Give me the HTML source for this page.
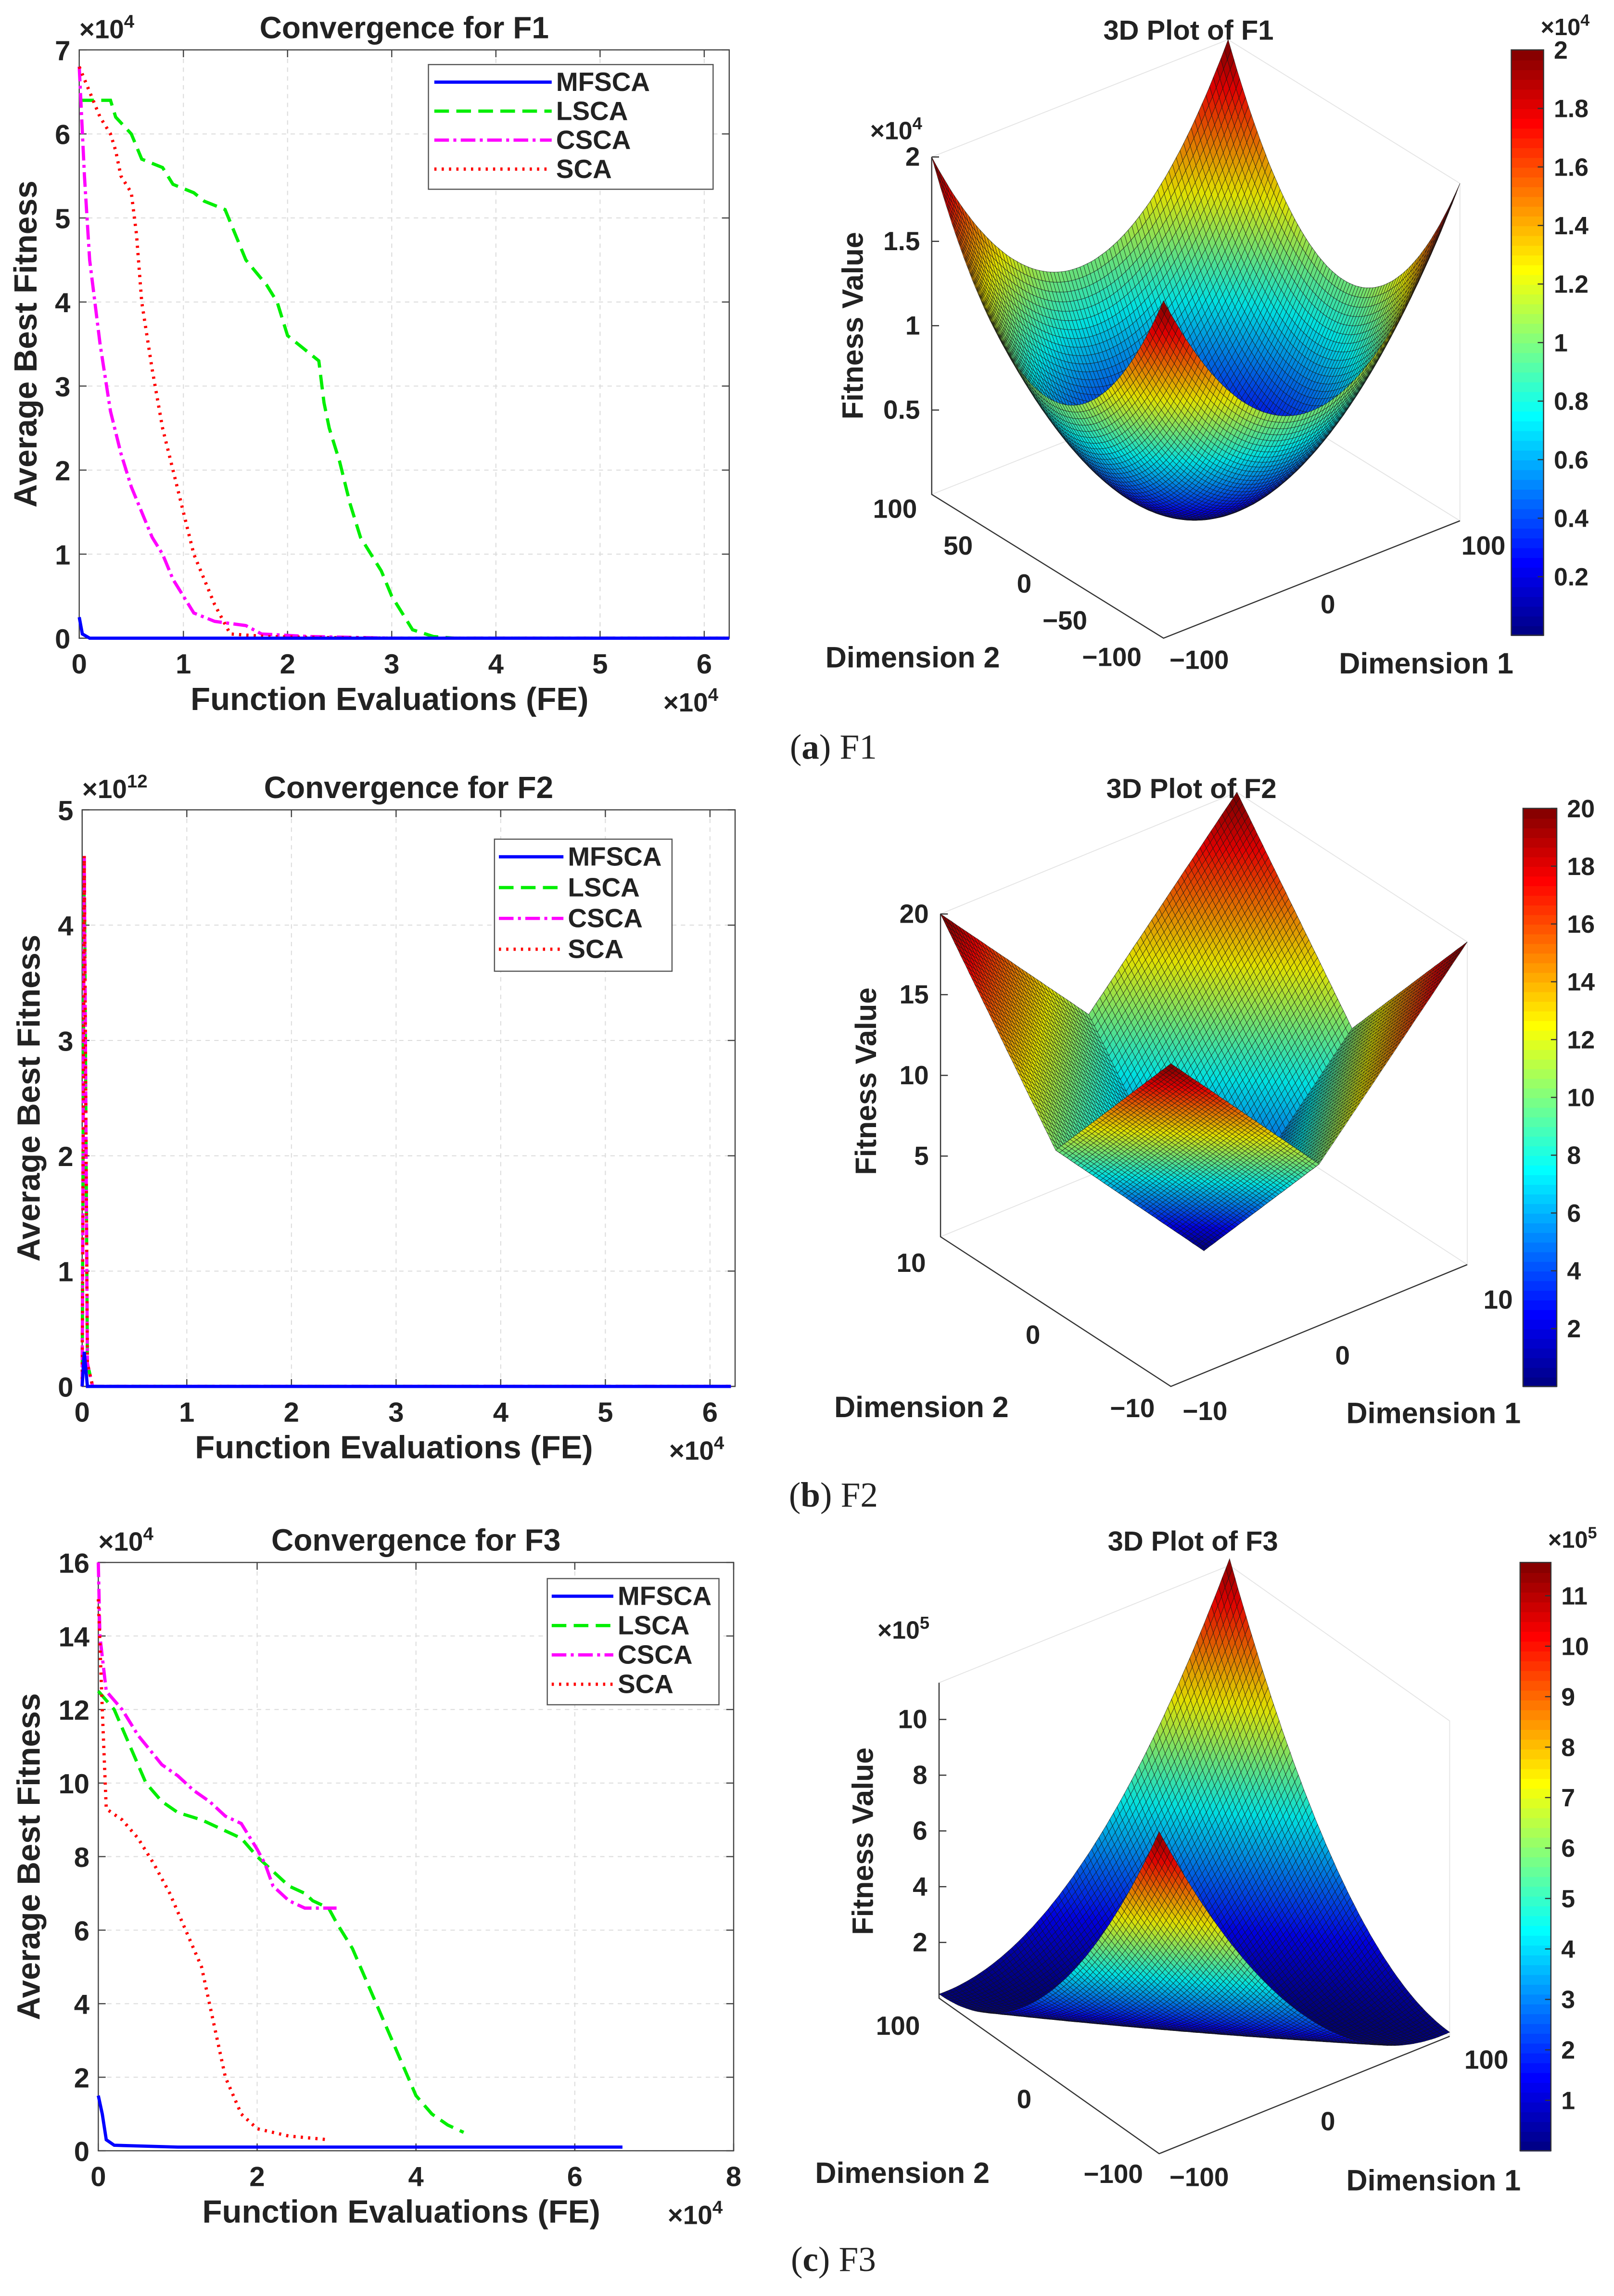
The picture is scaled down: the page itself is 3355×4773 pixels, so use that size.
<!DOCTYPE html>
<html><head><meta charset="utf-8">
<style>
html,body{margin:0;padding:0;background:#fff;}
svg{display:block;}
text{font-family:"Liberation Sans",sans-serif;font-weight:bold;fill:#222;}
</style></head>
<body>
<svg id="fig" xmlns="http://www.w3.org/2000/svg" width="3355" height="4773" viewBox="0 0 1100 1565" preserveAspectRatio="none">
</svg>
<script>
// ---------- DATA ----------
const f1MfscaX=[0,0.03,0.1,6.24], f1MfscaY=[0.25,0.05,0,0];
const f1LscaX=[0,0.3,0.35,0.5,0.6,0.8,0.9,1.1,1.2,1.4,1.5,1.6,1.8,1.9,2.0,2.1,2.3,2.35,2.4,2.5,2.6,2.7,2.8,2.9,3.0,3.1,3.2,3.4,3.6,6.24];
const f1LscaY=[6.4,6.4,6.2,6.0,5.7,5.6,5.4,5.3,5.2,5.1,4.8,4.5,4.2,4.0,3.6,3.5,3.3,2.8,2.5,2.1,1.6,1.2,1.0,0.8,0.5,0.3,0.1,0.02,0,0];
const f1CscaX=[0,0.05,0.1,0.2,0.3,0.4,0.5,0.6,0.7,0.8,0.9,1.0,1.1,1.3,1.6,1.75,2.2,3,6.24];
const f1CscaY=[6.8,5.5,4.5,3.5,2.7,2.2,1.8,1.5,1.2,1.0,0.7,0.5,0.3,0.2,0.15,0.05,0.02,0,0];
const f1ScaX=[0,0.2,0.3,0.35,0.4,0.5,0.55,0.6,0.7,0.8,0.9,1.0,1.1,1.2,1.3,1.45,1.8,2.2,3,6.24];
const f1ScaY=[6.8,6.2,6.0,5.8,5.5,5.3,4.8,4.0,3.2,2.5,2.0,1.5,1.0,0.7,0.4,0.05,0.02,0.01,0,0];

const f2X=[0,0.02,0.05,0.1,6.2], f2Y=[0,4.6,0.2,0,0];
const f2MfscaX=[0,0.02,0.05,6.2], f2MfscaY=[0,0.3,0,0];

const f3MfscaX=[0,0.05,0.1,0.2,1,6.6], f3MfscaY=[1.5,1.0,0.3,0.15,0.1,0.1];
const f3LscaX=[0,0.2,0.4,0.6,0.8,1.0,1.3,1.6,1.8,2.0,2.2,2.4,2.6,2.7,2.9,3.0,3.2,3.4,3.6,3.8,4.0,4.2,4.4,4.6];
const f3LscaY=[12.5,12,11,10,9.5,9.2,9.0,8.7,8.5,8.0,7.6,7.2,7.0,6.8,6.6,6.2,5.5,4.5,3.5,2.5,1.5,1.0,0.7,0.5];
const f3CscaX=[0,0.02,0.1,0.3,0.5,0.8,1.0,1.2,1.4,1.6,1.8,2.0,2.1,2.2,2.4,2.6,3.0];
const f3CscaY=[16,14,12.5,12,11.3,10.5,10.2,9.8,9.5,9.1,8.9,8.2,7.8,7.2,6.8,6.6,6.6];
const f3ScaX=[0,0.05,0.1,0.3,0.5,0.7,0.9,1.1,1.3,1.4,1.5,1.6,1.8,2.0,2.4,2.9];
const f3ScaY=[15,12,9.3,9.0,8.5,7.8,7.0,6.0,5.0,4.0,3.0,2.0,1.0,0.6,0.4,0.3];

const seriesNames=["MFSCA","LSCA","CSCA","SCA"];

// ---------- HELPERS ----------
const NS="http://www.w3.org/2000/svg";
const svg=document.getElementById('fig');
function mk(tag,attrs,parent){const e=document.createElementNS(NS,tag);for(const k in attrs)e.setAttribute(k,attrs[k]);(parent||svg).appendChild(e);return e;}
function txt(x,y,s,size,anchor,parent,rot){const t=mk('text',{x:x,y:y,'font-size':size,'text-anchor':anchor||'middle'},parent);if(rot)t.setAttribute('transform',`rotate(${rot} ${x} ${y})`);t.textContent=s;return t;}
function sup(x,y,base,exp,size,anchor,parent){const t=mk('text',{x:x,y:y,'font-size':size,'text-anchor':anchor||'start'},parent);t.appendChild(document.createTextNode(base));const s=document.createElementNS(NS,'tspan');s.setAttribute('dy',-size*0.4);s.setAttribute('font-size',size*0.7);s.textContent=exp;t.appendChild(s);return t;}
const styles={MFSCA:{c:'#0000ff',d:''},LSCA:{c:'#00ee00',d:'10,5'},CSCA:{c:'#ff00ff',d:'10,3,2,3'},SCA:{c:'#ff0000',d:'1.5,3.5'}};

function convPlot(o){
  const g=mk('g',{},svg);
  
  
  const sx=v=>o.x0+(v-o.xmin)/(o.xmax-o.xmin)*(o.x1-o.x0);
  const sy=v=>o.y1-(v-o.ymin)/(o.ymax-o.ymin)*(o.y1-o.y0);
  o.xt.forEach(v=>{mk('line',{x1:sx(v),x2:sx(v),y1:o.y0,y2:o.y1,stroke:'#ddd','stroke-width':0.7,'stroke-dasharray':'3,3'},g);});
  o.yt.forEach(v=>{mk('line',{x1:o.x0,x2:o.x1,y1:sy(v),y2:sy(v),stroke:'#ddd','stroke-width':0.7,'stroke-dasharray':'3,3'},g);});
  const fr=mk('rect',{x:o.x0,y:o.y0,width:o.x1-o.x0,height:o.y1-o.y0,fill:'none',stroke:'#444','stroke-width':0.8},g);
  
  o.xt.forEach(v=>{txt(sx(v),o.y1+24,String(v),19,'middle',g);mk('line',{x1:sx(v),x2:sx(v),y1:o.y1,y2:o.y1-5,stroke:'#444','stroke-width':0.8},g);mk('line',{x1:sx(v),x2:sx(v),y1:o.y0,y2:o.y0+5,stroke:'#444','stroke-width':0.8},g);});
  o.yt.forEach(v=>{txt(o.x0-6,sy(v)+7,String(v),19,'end',g);mk('line',{x1:o.x0,x2:o.x0+5,y1:sy(v),y2:sy(v),stroke:'#444','stroke-width':0.8},g);mk('line',{x1:o.x1,x2:o.x1-5,y1:sy(v),y2:sy(v),stroke:'#444','stroke-width':0.8},g);});
  o.series.forEach(s=>{const st=styles[s.n];const p=mk('polyline',{points:s.x.map((v,i)=>sx(v)+','+sy(s.y[i])).join(' '),fill:'none',stroke:st.c,'stroke-width':2.2,'stroke-dasharray':st.d},g);
    });
  const t=txt((o.x0+o.x1)/2,o.y0-8,o.title,21,'middle',g);
  sup(o.x0,o.y0-8,'×10',o.yexp,18,'start',g);
  const xl=txt((o.x0+o.x1)/2-10,o.y1+49,'Function Evaluations (FE)',22,'middle',g);
  sup(o.x1-45,o.y1+50,'×10','4',18,'start',g);
  const yl=txt(o.yl,(o.y0+o.y1)/2,'Average Best Fitness',22,'middle',g,-90);
  const L=o.leg;const lg=mk('g',{},g);
  mk('rect',{x:L.x,y:L.y,width:L.w,height:L.h,fill:'#fff',stroke:'#555','stroke-width':0.8},lg);
  seriesNames.forEach((n,i)=>{const yy=L.y+12+i*(L.h-6)/4;const st=styles[n];
    const e=mk('line',{x1:L.lx,x2:L.lx+L.ll,y1:yy,y2:yy,stroke:st.c,'stroke-width':2.2,'stroke-dasharray':st.d},lg);
    
    txt(L.lx+L.ll+3,yy+6,n,18,'start',lg);});
}

convPlot({name:'convergence-f1',x0:54,x1:497,y0:34,y1:435,xmin:0,xmax:6.24,ymin:0,ymax:7,xt:[0,1,2,3,4,5,6],yt:[0,1,2,3,4,5,6,7],title:'Convergence for F1',yexp:'4',yl:25,
  leg:{x:292,y:44,w:194,h:85,lx:296,ll:80},
  series:[{n:'LSCA',x:f1LscaX,y:f1LscaY},{n:'CSCA',x:f1CscaX,y:f1CscaY},{n:'SCA',x:f1ScaX,y:f1ScaY},{n:'MFSCA',x:f1MfscaX,y:f1MfscaY}]});
convPlot({name:'convergence-f2',x0:56,x1:501,y0:552,y1:945,xmin:0,xmax:6.24,ymin:0,ymax:5,xt:[0,1,2,3,4,5,6],yt:[0,1,2,3,4,5],title:'Convergence for F2',yexp:'12',yl:27,
  leg:{x:337,y:572,w:121,h:90,lx:340,ll:44},
  series:[{n:'LSCA',x:f2X,y:f2Y},{n:'CSCA',x:f2X,y:f2Y},{n:'SCA',x:f2X,y:f2Y},{n:'MFSCA',x:f2MfscaX,y:f2MfscaY}]});
convPlot({name:'convergence-f3',x0:67,x1:500,y0:1065,y1:1466,xmin:0,xmax:8,ymin:0,ymax:16,xt:[0,2,4,6,8],yt:[0,2,4,6,8,10,12,14,16],title:'Convergence for F3',yexp:'4',yl:27,
  leg:{x:373,y:1076,w:117,h:86,lx:376,ll:42},
  series:[{n:'LSCA',x:f3LscaX,y:f3LscaY},{n:'CSCA',x:f3CscaX,y:f3CscaY},{n:'SCA',x:f3ScaX,y:f3ScaY},{n:'MFSCA',x:f3MfscaX,y:f3MfscaY}]});

// ---------- 3D ----------
function jet(t){t=Math.max(0,Math.min(1,t));const r=Math.max(0,Math.min(1,1.5-Math.abs(4*t-3)));const g=Math.max(0,Math.min(1,1.5-Math.abs(4*t-2)));const b=Math.max(0,Math.min(1,1.5-Math.abs(4*t-1)));return `rgb(${Math.round(r*255)},${Math.round(g*255)},${Math.round(b*255)})`;}
function jetd(t){const k=0.88;t=Math.max(0,Math.min(1,t));const r=Math.max(0,Math.min(1,1.5-Math.abs(4*t-3)));const g=Math.max(0,Math.min(1,1.5-Math.abs(4*t-2)));const b=Math.max(0,Math.min(1,1.5-Math.abs(4*t-1)));return `rgb(${Math.round(r*255*k)},${Math.round(g*255*k)},${Math.round(b*255*k)})`;}
function surf(o){
  const g=mk('g',{},svg);
  const F=o.front,R=o.right,Lf=o.left;
  const ex=[(R[0]-F[0])/2,(R[1]-F[1])/2], ey=[(Lf[0]-F[0])/2,(Lf[1]-F[1])/2];
  const C=[F[0]+ex[0]+ey[0],F[1]+ex[1]+ey[1]];
  const P=(x,y,z)=>[C[0]+x*ex[0]+y*ey[0],C[1]+x*ex[1]+y*ey[1]-z*o.zs];
  const B=[C[0]+ex[0]+ey[0],C[1]+ex[1]+ey[1]];
  const H=o.zh;
  mk('polygon',{points:[Lf,B,R].map(p=>p[0]+','+p[1]).join(' ')+` ${R[0]},${R[1]-H} ${B[0]},${B[1]-H} ${Lf[0]},${Lf[1]-H}`,fill:'#fff',stroke:'#e4e4e4','stroke-width':0.6},g);
  mk('line',{x1:B[0],y1:B[1],x2:B[0],y2:B[1]-H,stroke:'#e4e4e4','stroke-width':0.6},g);
  mk('polyline',{points:`${Lf[0]},${Lf[1]-H} ${Lf[0]},${Lf[1]} ${F[0]},${F[1]} ${R[0]},${R[1]}`,fill:'none',stroke:'#333','stroke-width':0.8},g);
  const n=80,q=[];
  for(let i=0;i<n;i++)for(let j=0;j<n;j++){const x0=-1+2*i/n,x1=-1+2*(i+1)/n,y0=-1+2*j/n,y1=-1+2*(j+1)/n;
    const zc=o.f((x0+x1)/2,(y0+y1)/2);
    q.push({d:(x0+x1+y0+y1),pts:[[x0,y0],[x1,y0],[x1,y1],[x0,y1]].map(p=>P(p[0],p[1],o.f(p[0],p[1]))),c:jetd(zc/o.cmax)});}
  q.sort((a,b)=>b.d-a.d);
  const sg=mk('g',{stroke:'rgba(20,20,20,0.75)','stroke-width':0.3},g);
  
  q.forEach(c=>{mk('polygon',{points:c.pts.map(p=>p[0].toFixed(1)+','+p[1].toFixed(1)).join(' '),fill:c.c},sg);});
  o.zt.forEach(v=>{const y=Lf[1]-v*o.zs;txt(Lf[0]-8,y+6,o.zl(v),18,'end',g);mk('line',{x1:Lf[0],x2:Lf[0]+5,y1:y,y2:y,stroke:'#333','stroke-width':0.8},g);});
  if(o.zexp)sup(Lf[0]-42,Lf[1]-H+(o.zexpDy||0),'×10',o.zexp,17,'start',g);
  o.d2.forEach(t=>txt(t[0],t[1],t[2],18,'end',g));
  o.d1.forEach(t=>txt(t[0],t[1],t[2],18,'start',g));
  txt(o.dim2[0],o.dim2[1],'Dimension 2',20,'middle',g);
  txt(o.dim1[0],o.dim1[1],'Dimension 1',20,'middle',g);
  const yl=txt(o.fv[0],o.fv[1],'Fitness Value',20,'middle',g,-90);
  const t=txt(o.title[0],o.title[1],o.title[2],19,'middle',g);
  const cb=o.cb;const cg=mk('g',{},g);
  const m=60;for(let k=0;k<m;k++){mk('rect',{x:cb.x,y:cb.y1-(k+1)*(cb.y1-cb.y0)/m,width:cb.w,height:(cb.y1-cb.y0)/m+0.5,fill:jet((k+0.5)/m)},cg);}
  mk('rect',{x:cb.x,y:cb.y0,width:cb.w,height:cb.y1-cb.y0,fill:'none',stroke:'#333','stroke-width':0.8},cg);
  cb.ticks.forEach(v=>{const y=cb.y1-v/cb.max*(cb.y1-cb.y0);txt(cb.x+cb.w+7,y+6,cb.lab(v),17,'start',cg);mk('line',{x1:cb.x+cb.w,x2:cb.x+cb.w-4,y1:y,y2:y,stroke:'#333','stroke-width':0.8},cg);});
  if(cb.exp)sup(cb.x+cb.w-2,cb.y0-10,'×10',cb.exp,16,'start',cg);
}
surf({name:'surface-f1',front:[793,435],right:[995,355],left:[635,337],zs:230/2e4,zh:230,f:(x,y)=>1e4*(x*x+y*y),cmax:2e4,
  zt:[5000,10000,15000,20000],zl:v=>String(v/1e4),zexp:'4',zexpDy:-12,
  d2:[[625,353,'100'],[663,378,'50'],[703,404,'0'],[741,429,'−50'],[778,454,'−100']],
  d1:[[797,456,'−100'],[900,418,'0'],[996,378,'100']],dim2:[622,455],dim1:[972,459],fv:[588,222],title:[810,27,'3D Plot of F1'],
  cb:{x:1030,w:22,y0:34,y1:433,max:2,ticks:[0.2,0.4,0.6,0.8,1,1.2,1.4,1.6,1.8,2],lab:v=>String(Math.round(v*10)/10),exp:'4'}});
surf({name:'surface-f2',front:[798,945],right:[1000,862],left:[641,843],zs:220/20,zh:220,f:(x,y)=>10*(Math.abs(x)+Math.abs(y)),cmax:20,
  zt:[5,10,15,20],zl:v=>String(v),
  d2:[[631,867,'10'],[709,916,'0'],[787,966,'−10']],d1:[[806,968,'−10'],[910,930,'0'],[1011,892,'10']],dim2:[628,966],dim1:[977,970],fv:[597,737],title:[812,544,'3D Plot of F2'],
  cb:{x:1038,w:23,y0:551,y1:945,max:20,ticks:[2,4,6,8,10,12,14,16,18,20],lab:v=>String(v)}});
surf({name:'surface-f3',front:[790,1468],right:[988,1388],left:[640,1362],zs:19/1e5,zh:215,f:(x,y)=>2.85e5*(x+y)*(x+y)+0.15e5*(x*x),cmax:11.7e5,
  zt:[2e5,4e5,6e5,8e5,10e5],zl:v=>String(v/1e5),zexp:'5',zexpDy:-30,
  d2:[[627,1387,'100'],[703,1437,'0'],[779,1488,'−100']],d1:[[797,1490,'−100'],[900,1452,'0'],[998,1410,'100']],dim2:[615,1488],dim1:[977,1493],fv:[595,1255],title:[813,1057,'3D Plot of F3'],
  cb:{x:1036,w:21,y0:1065,y1:1466,max:11.66,ticks:[1,2,3,4,5,6,7,8,9,10,11],lab:v=>String(v),exp:'5'}});

[['(a)',' F1',517],['(b)',' F2',1027],['(c)',' F3',1548]].forEach((c,i)=>{
  const t=mk('text',{x:568,y:c[2],'text-anchor':'middle','font-size':24,style:'font-family:"Liberation Serif",serif;font-weight:normal'});
  
  
  t.appendChild(document.createTextNode('('));
  const b2=document.createElementNS(NS,'tspan');b2.setAttribute('font-weight','bold');b2.textContent=c[0].slice(1,2);t.appendChild(b2);
  t.appendChild(document.createTextNode(')'+c[1]));
});
</script>
</body></html>
